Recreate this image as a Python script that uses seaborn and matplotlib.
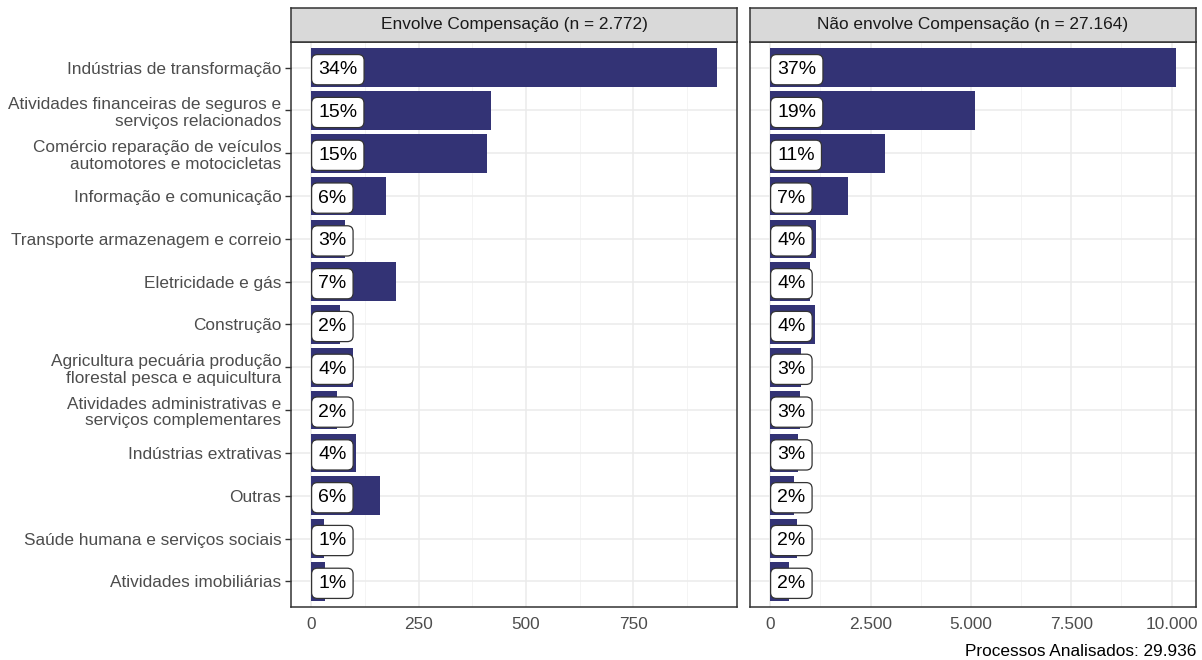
import pandas as pd
import numpy as np
import matplotlib.pyplot as plt
import seaborn as sns

# categories (top to bottom)
setores = [
    "Indústrias de transformação",
    "Atividades financeiras de seguros e\nserviços relacionados",
    "Comércio reparação de veículos\nautomotores e motocicletas",
    "Informação e comunicação",
    "Transporte armazenagem e correio",
    "Eletricidade e gás",
    "Construção",
    "Agricultura pecuária produção\nflorestal pesca e aquicultura",
    "Atividades administrativas e\nserviços complementares",
    "Indústrias extrativas",
    "Outras",
    "Saúde humana e serviços sociais",
    "Atividades imobiliárias",
]

# processos por setor
com_comp = [944, 419, 409, 173, 79, 198, 66, 98, 61, 104, 160, 29, 32]
sem_comp = [10103, 5092, 2864, 1931, 1131, 1000, 1106, 767, 735, 703, 594, 668, 470]

paineis = ["Envolve Compensação", "Não envolve Compensação"]
ticks_l = [0, 250, 500, 750]
ticks_r = [0, 2500, 5000, 7500, 10000]

sns.set_style("white")
plt.rcParams['font.family'] = ['Liberation Sans', 'DejaVu Sans']

BAR = "#333375"
GRID = "#EBEBEB"
DARK = "#333333"


def fmt(v):
    return f"{v:,.0f}".replace(",", ".")


fig = plt.figure(figsize=(12.02, 6.6), dpi=100)
W, H = 1202, 660
pan_top, pan_bot = 42, 607
strip_top = 8

total = sum(com_comp) + sum(sem_comp)

for k, (vals, ticks, x0, x1) in enumerate([
        (com_comp, ticks_l, 291, 737),
        (sem_comp, ticks_r, 750, 1196)]):
    ax = fig.add_axes([x0 / W, 1 - pan_bot / H, (x1 - x0) / W, (pan_bot - pan_top) / H])
    df = pd.DataFrame({"setor": setores, "n": vals})
    sns.barplot(data=df, x="n", y="setor", color=BAR, saturation=1, width=0.9,
                orient="h", linewidth=0, ax=ax, zorder=2)

    mx = max(vals)
    ax.set_xlim(-0.05 * mx, 1.05 * mx)
    ax.set_ylim(len(setores) - 0.4, -0.6)

    # grid like ggplot theme_bw
    step = ticks[1] - ticks[0]
    for t in ticks:
        ax.axvline(t, color=GRID, lw=1.1, zorder=0)
    for t in np.arange(ticks[0] + step / 2, ax.get_xlim()[1], step):
        ax.axvline(t, color="#F3F3F3", lw=0.6, zorder=0)
    for i in range(len(setores)):
        ax.axhline(i, color=GRID, lw=1.1, zorder=0)

    ax.set_xticks(ticks)
    ax.set_xticklabels([fmt(t) for t in ticks], fontsize=12.4, color="#4D4D4D")
    ax.tick_params(axis="x", length=4, width=1, color=DARK, pad=3)
    ax.set_yticks(range(len(setores)))
    if k == 0:
        ax.set_yticklabels(setores, fontsize=12.4, color="#4D4D4D", ha="right",
                           multialignment="right", linespacing=1.15)
        ax.tick_params(axis="y", length=4, width=1, color=DARK, pad=3, left=True)
    else:
        ax.set_yticklabels([])
        ax.tick_params(axis="y", length=0)
    ax.set_xlabel("")
    ax.set_ylabel("")
    for s in ax.spines.values():
        s.set_color(DARK)
        s.set_linewidth(1.1)

    n = sum(vals)
    for i, v in enumerate(vals):
        ax.annotate(f"{round(100 * v / n)}%", xy=(0, i), xytext=(5, 0),
                    textcoords="offset points", ha="left", va="center_baseline",
                    fontsize=14, color="black", zorder=5,
                    bbox=dict(boxstyle="round,pad=0.34,rounding_size=0.3",
                              fc="white", ec=DARK, lw=0.9))

    # facet strip
    sax = fig.add_axes([x0 / W, 1 - pan_top / H, (x1 - x0) / W, (pan_top - strip_top) / H])
    sax.set_facecolor("#D9D9D9")
    sax.set_xticks([])
    sax.set_yticks([])
    for s in sax.spines.values():
        s.set_color(DARK)
        s.set_linewidth(1.1)
    sax.text(0.5, 0.5, f"{paineis[k]} (n = {fmt(n)})", ha="center", va="center",
             fontsize=12.4, color="#1A1A1A", transform=sax.transAxes)

fig.text(1196 / W, 1 - 651 / H, f"Processos Analisados: {fmt(total)}",
         ha="right", va="center", fontsize=12.4, color="black")

fig.savefig("out.png", dpi=100)
